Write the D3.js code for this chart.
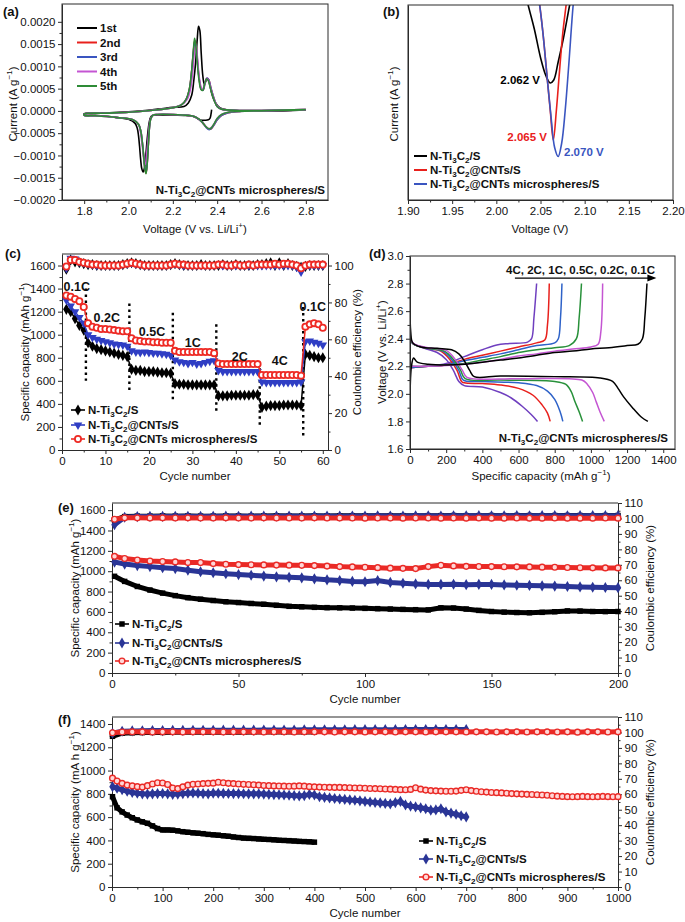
<!DOCTYPE html>
<html>
<head>
<meta charset="utf-8">
<script src="https://cdn.jsdelivr.net/npm/d3@7"></script>
<style>
  body { margin: 0; background: #fff; }
  svg { font-family: "Liberation Sans", Arial, sans-serif; }
</style>
</head>
<body>
<svg id="chart" width="685" height="922"></svg>
<script>
// ---------------- data ----------------

// (a) CV curves, [voltage V, current A/g]
const cvCycle1 = [[2.375,0.00003],[2.372,-0.00008],[2.368,-0.00016],[2.36,-0.0002],[2.345,-0.00021],[2.33,-0.00021],[2.315,-0.00018],[2.30,-0.00014],[2.28,-0.00011],[2.25,-0.0001],[2.20,-0.00009],[2.15,-0.00009],[2.11,-0.0001],[2.10,-0.00014],[2.092,-0.0003],[2.085,-0.0006],[2.078,-0.001],[2.072,-0.00128],[2.066,-0.00137],[2.06,-0.0013],[2.055,-0.0011],[2.05,-0.0008],[2.045,-0.00055],[2.04,-0.0004],[2.03,-0.00028],[2.0,-0.00019],[1.95,-0.00015],[1.9,-0.00012],[1.85,-0.0001],[1.8,-0.00009],
  [1.8,-0.00006],[1.9,-0.00004],[2.0,-0.00002],[2.1,0.00002],[2.15,0.00005],[2.2,0.00008],[2.25,0.0001],[2.27,0.00018],[2.285,0.00035],[2.295,0.0007],[2.303,0.0011],[2.31,0.0016],[2.316,0.0019],[2.322,0.0018],[2.328,0.0013],[2.335,0.0008],[2.342,0.0006],[2.35,0.00068],[2.357,0.00072],[2.365,0.00062],[2.375,0.0004],[2.39,0.0002],[2.41,0.00008],[2.45,0.00002],[2.55,0.0],[2.7,0.0],[2.8,0.00002]];
const cvCycle2 = [[2.80,0.00002],[2.60,0],[2.50,-0.00001],[2.45,-0.00004],[2.42,-0.0001],[2.40,-0.0002],[2.385,-0.00032],[2.373,-0.0004],[2.364,-0.00041],[2.352,-0.00037],[2.337,-0.00028],[2.32,-0.0002],[2.30,-0.00013],[2.27,-0.0001],[2.20,-0.00008],[2.13,-0.00008],[2.11,-0.0001],[2.10,-0.00018],[2.094,-0.0004],[2.089,-0.0008],[2.084,-0.0012],[2.079,-0.0014],[2.074,-0.00129],[2.068,-0.00099],[2.062,-0.00069],[2.055,-0.00044],[2.045,-0.0003],[2.02,-0.0002],[1.95,-0.00015],[1.85,-0.00011],[1.80,-0.0001],
  [1.80,-0.00007],[1.90,-0.00005],[2.00,-0.00003],[2.10,0.00001],[2.20,0.00007],[2.24,0.00014],[2.26,0.00026],[2.275,0.0005],[2.285,0.0009],[2.292,0.0013],[2.299,0.00158],[2.305,0.00147],[2.312,0.00106],[2.32,0.00068],[2.329,0.00048],[2.337,0.00047],[2.345,0.00062],[2.354,0.00073],[2.362,0.0007],[2.372,0.00051],[2.387,0.00026],[2.40,0.0001],[2.42,0.00004],[2.50,0.00001],[2.60,0.00001],[2.80,0.00003]];
const cvCycle3 = [[2.80,0.00002],[2.60,0],[2.50,-0.00001],[2.45,-0.00004],[2.42,-0.0001],[2.40,-0.0002],[2.385,-0.00032],[2.373,-0.0004],[2.364,-0.00042],[2.352,-0.00038],[2.337,-0.00028],[2.32,-0.0002],[2.30,-0.00013],[2.27,-0.0001],[2.20,-0.00008],[2.13,-0.00008],[2.11,-0.0001],[2.10,-0.00018],[2.094,-0.0004],[2.089,-0.00078],[2.084,-0.00118],[2.079,-0.00138],[2.074,-0.00128],[2.068,-0.00098],[2.062,-0.00068],[2.055,-0.00044],[2.045,-0.0003],[2.02,-0.0002],[1.95,-0.00015],[1.85,-0.00011],[1.80,-0.0001],
  [1.80,-0.00007],[1.90,-0.00005],[2.00,-0.00003],[2.10,0.00001],[2.20,0.00007],[2.24,0.00014],[2.26,0.00026],[2.275,0.00049],[2.285,0.00088],[2.292,0.00128],[2.299,0.00155],[2.305,0.00145],[2.312,0.00105],[2.32,0.00068],[2.329,0.00048],[2.337,0.00047],[2.345,0.00062],[2.354,0.00074],[2.362,0.0007],[2.372,0.00051],[2.387,0.00026],[2.40,0.0001],[2.42,0.00004],[2.50,0.00001],[2.60,0.00001],[2.80,0.00003]];
const cvCycle4 = [[2.80,0.00002],[2.60,0],[2.50,-0.00001],[2.45,-0.00003],[2.42,-0.00008],[2.40,-0.00017],[2.385,-0.0003],[2.372,-0.00038],[2.363,-0.0004],[2.35,-0.00036],[2.335,-0.00027],[2.32,-0.00019],[2.30,-0.00013],[2.27,-0.0001],[2.20,-0.00008],[2.13,-0.00008],[2.11,-0.0001],[2.10,-0.00017],[2.093,-0.00037],[2.087,-0.0007],[2.081,-0.001],[2.076,-0.0012],[2.071,-0.00115],[2.066,-0.00095],[2.06,-0.0007],[2.053,-0.00045],[2.045,-0.0003],[2.02,-0.0002],[1.95,-0.00015],[1.85,-0.00011],[1.80,-0.0001],
  [1.80,-0.00007],[1.90,-0.00005],[2.00,-0.00003],[2.10,0.00001],[2.20,0.00007],[2.24,0.00014],[2.265,0.00026],[2.28,0.0005],[2.29,0.0009],[2.297,0.0013],[2.303,0.00147],[2.309,0.0013],[2.316,0.0009],[2.324,0.0006],[2.333,0.00047],[2.342,0.00058],[2.352,0.00073],[2.36,0.0007],[2.37,0.00052],[2.385,0.00028],[2.40,0.00011],[2.42,0.00004],[2.50,0.00001],[2.60,0.00001],[2.80,0.00003]];
const cvCycle5 = [[2.80,0.00002],[2.70,0.00001],[2.60,0],[2.50,-0.00001],[2.45,-0.00003],[2.42,-0.00008],[2.40,-0.00017],[2.385,-0.0003],[2.372,-0.00039],[2.362,-0.0004],[2.35,-0.00036],[2.335,-0.00027],[2.32,-0.00019],[2.30,-0.00013],[2.27,-0.0001],[2.20,-0.00008],[2.13,-0.00008],[2.11,-0.0001],[2.10,-0.00018],[2.094,-0.0004],[2.089,-0.0008],[2.084,-0.0012],[2.079,-0.00141],[2.074,-0.0013],[2.068,-0.001],[2.062,-0.0007],[2.055,-0.00045],[2.045,-0.0003],[2.02,-0.0002],[1.95,-0.00015],[1.85,-0.00011],[1.80,-0.0001],
  [1.80,-0.00007],[1.90,-0.00005],[2.00,-0.00003],[2.10,0.00001],[2.20,0.00007],[2.24,0.00014],[2.26,0.00026],[2.275,0.0005],[2.285,0.0009],[2.292,0.0013],[2.298,0.00163],[2.303,0.0015],[2.31,0.0011],[2.318,0.0007],[2.327,0.00048],[2.335,0.00046],[2.343,0.0006],[2.352,0.00072],[2.36,0.00068],[2.37,0.0005],[2.385,0.00026],[2.40,0.0001],[2.42,0.00004],[2.50,0.00001],[2.60,0.00001],[2.80,0.00003]];
const cvLabels = ['1st', '2nd', '3rd', '4th', '5th'];
const cvColors = ['#000000', '#e8201c', '#3a55c0', '#c455d2', '#2e8b36'];

// (b) zoom on the cathodic peak
const peakBlack = [[2.030,-0.00005],[2.036,-0.0002],[2.043,-0.00036],[2.050,-0.00055],[2.056,-0.00067],[2.061,-0.00072],[2.065,-0.0007],[2.070,-0.00058],[2.076,-0.00042],[2.083,-0.0002],[2.087,-0.00008]];
const peakRed = [[2.046,-0.0001],[2.049,-0.0002],[2.053,-0.0004],[2.057,-0.00065],[2.061,-0.0009],[2.0645,-0.0011],[2.068,-0.0009],[2.071,-0.00068],[2.075,-0.0004],[2.079,-0.0002],[2.081,-0.0001]];
const peakBlue = [[2.046,-0.0001],[2.049,-0.0002],[2.053,-0.0004],[2.057,-0.00065],[2.062,-0.00095],[2.066,-0.00115],[2.070,-0.00121],[2.074,-0.00112],[2.078,-0.0009],[2.082,-0.0006],[2.087,-0.0002],[2.089,-0.0001]];
const peakLabels = ['2.062 V', '2.065 V', '2.070 V'];

const sampleNames = ['N-Ti{_3}C{_2}/S', 'N-Ti{_3}C{_2}@CNTs/S', 'N-Ti{_3}C{_2}@CNTs microspheres/S'];

// (c) rate performance, cycles 1..60
const cyclesC = d3.range(1, 61);
const capBlackC = [1220,1200,1140,1080,1040, 930,900,880,870,860,850,840,830,820,810, 700,690,690,680,680,680,675,670,670,665, 575,570,570,565,565,565,565,565,565,565, 470,470,470,475,475,475,475,475,480,480, 370,380,385,385,385,390,390,390,390,385, 830,820,810,800,800];
const capBlueC = [1300,1250,1200,1150,1100, 1000,975,960,950,940,930,920,915,910,900, 860,850,845,850,845,840,840,835,830,820, 780,765,760,750,760,745,750,760,770,775, 690,680,680,680,680,680,680,680,680,680, 590,585,585,585,585,585,585,585,585,590, 940,945,935,925,910];
const capRedC = [1340,1330,1310,1290,1240, 1100,1070,1060,1050,1050,1045,1040,1035,1030,1030, 970,950,945,940,940,935,935,930,930,930, 860,850,850,850,850,850,850,850,850,840, 750,745,745,745,745,745,745,745,745,745, 650,650,650,650,650,650,650,650,650,645, 1070,1090,1100,1090,1060];
const ceBlackC = [98,103,102,101.5,101, 100.5,100.5,100,100,100,100,100,100,100.5,101, 101.5,101,100.5,100,100,100,100,100,100,100.5, 101,100.5,100,100,100,100,100.5,100,100,100, 100,100.5,100,100,100.5,100,100,100,100,100.5, 100.5,101,101.5,100,101.5,100,101,100,99.5,99, 99.5,100,100,100,100];
const ceBlueC = [98.5,104,103.5,102,101.5, 101,100.5,100,100,100,100,100,100,100.5,101, 101.5,101,100.5,100,100,100,100,100,100,100.5, 101,100.5,100,100,100,100,100,100,100,100, 100.5,100,100,100,100,100,100,100,100,100, 100,100,100,100,100,100,100,100,99,96.5, 100,100,100,100,100];
const ceRedC = [99.5,103,103,102,101.5, 101,100.5,100.5,100,100,100,100,100,100.5,101, 101.5,101,100.5,100,100,100,100,100,100,100.5, 101,100.5,100.5,100,100,100,100,100,100,100, 100.5,100.5,100,100,100.5,100,100,100.5,100,100.5, 100.5,100.5,100.5,101,100.5,101,101,100.5,100,98.5, 100,100.5,100.5,100.5,100.5];
// rate switch markers [cycle, top, bottom] and rate labels
const rateDividers = [[5.5,1400,600],[15.5,1270,500],[25.5,1190,420],[35.5,1090,330],[45.5,710,190],[55.5,1240,110]];
const rateLabels = ['0.1C', '0.2C', '0.5C', '1C', '2C', '4C', '0.1C'];
const rateLabelCycle = [3.4, 10.3, 20.7, 30.1, 40.9, 50.1, 57.7];
const rateLabelCap = [1415, 1146, 1024, 929, 807, 773, 1241];

// (d) charge/discharge profiles, [capacity mAh/g, voltage V]
const rateNamesD = ['4C', '2C', '1C', '0.5C', '0.2C', '0.1C'];
const rateColorsD = ['#6f3fbf', '#e8201c', '#2e62c8', '#28913a', '#c455d2', '#000000'];
const dis4C = [[0,2.39],[20,2.36],[80,2.33],[150,2.30],[200,2.25],[240,2.17],[270,2.09],[300,2.06],[400,2.05],[500,2.01],[560,1.97],[620,1.91],[670,1.85],[705,1.80]];
const dis2C = [[0,2.40],[20,2.36],[100,2.33],[170,2.31],[220,2.25],[260,2.17],[285,2.09],[300,2.08],[400,2.075],[500,2.065],[600,2.04],[680,1.99],[730,1.92],[760,1.86],[775,1.80]];
const dis1C = [[0,2.40],[20,2.36],[100,2.33],[180,2.31],[230,2.25],[270,2.17],[295,2.10],[400,2.09],[600,2.08],[700,2.06],[760,2.02],[800,1.96],[830,1.87],[845,1.80]];
const dis05C = [[0,2.40],[20,2.36],[100,2.33],[190,2.31],[240,2.25],[280,2.17],[305,2.11],[500,2.10],[800,2.09],[860,2.07],[890,2.02],[910,1.95],[935,1.87],[954,1.80]];
const dis02C = [[0,2.41],[20,2.365],[100,2.335],[200,2.315],[250,2.25],[290,2.17],[315,2.12],[600,2.11],[950,2.10],[980,2.07],[1010,2.01],[1030,1.94],[1050,1.87],[1074,1.80]];
const dis01C = [[0,2.66],[4,2.45],[15,2.37],[60,2.34],[150,2.33],[230,2.32],[270,2.29],[300,2.24],[330,2.17],[355,2.125],[500,2.13],[800,2.125],[1050,2.115],[1120,2.09],[1150,2.04],[1180,1.98],[1230,1.90],[1280,1.83],[1315,1.80]];
const chg4C = [[0,2.19],[100,2.20],[200,2.22],[300,2.27],[400,2.32],[480,2.355],[550,2.365],[650,2.375],[672,2.40],[685,2.55],[700,2.80]];
const chg2C = [[0,2.19],[100,2.20],[200,2.21],[300,2.25],[400,2.28],[500,2.31],[600,2.34],[700,2.37],[745,2.39],[760,2.50],[770,2.80]];
const chg1C = [[0,2.19],[100,2.20],[200,2.21],[300,2.24],[400,2.265],[500,2.29],[600,2.32],[700,2.35],[800,2.37],[820,2.40],[832,2.55],[840,2.80]];
const chg05C = [[0,2.20],[100,2.20],[200,2.21],[300,2.22],[400,2.245],[500,2.27],[600,2.30],[700,2.32],[800,2.335],[880,2.35],[920,2.40],[935,2.55],[948,2.80]];
const chg02C = [[0,2.20],[100,2.20],[200,2.205],[300,2.215],[400,2.23],[500,2.25],[600,2.275],[700,2.29],[800,2.31],[900,2.325],[1000,2.34],[1040,2.36],[1055,2.45],[1065,2.80]];
const chg01C = [[0,1.97],[8,2.20],[20,2.26],[40,2.23],[100,2.215],[200,2.21],[300,2.215],[400,2.23],[500,2.245],[600,2.26],[700,2.28],[800,2.30],[900,2.31],[1000,2.325],[1100,2.335],[1200,2.35],[1260,2.36],[1285,2.40],[1298,2.55],[1310,2.80]];

// (e) cycling at 0.2C, sampled every 5 cycles
const cyclesE = [1].concat(d3.range(5, 201, 5));
const capBlackE = [950,900,850,815,785,760,740,725,712,700,692,683,675,665,655,650,645,642,640,638,635,632,628,625,622,620,640,638,628,615,604,598,594,592,596,602,610,608,604,603,604];
const capBlueE = [1090,1070,1055,1045,1035,1026,1010,995,985,975,967,960,952,945,940,935,925,915,908,900,896,908,890,882,875,870,870,872,868,870,870,865,862,860,856,854,850,846,842,840,838];
const capRedE = [1146,1125,1110,1100,1095,1091,1085,1085,1075,1068,1065,1063,1062,1060,1059,1058,1055,1050,1045,1042,1039,1035,1030,1028,1026,1045,1058,1052,1048,1046,1045,1044,1043,1042,1040,1039,1036,1034,1033,1032,1032];
const ceBlackE = [99.0,101.2,101.5,101.5,101.6,101.5,101.6,101.5,101.5,101.6,101.6,101.5,101.6,101.7,101.6,101.6,101.7,101.6,101.7,101.8,101.7,101.7,101.8,101.8,101.7,101.8,101.8,101.9,101.8,101.8,101.9,101.8,101.9,101.9,101.8,101.9,101.9,101.9,101.8,101.9,101.9];
const ceBlueE = [96.0,100.8,101.2,101.3,101.3,101.4,101.4,101.3,101.4,101.5,101.4,101.5,101.5,101.5,101.6,101.5,101.6,101.6,101.5,101.6,101.6,101.7,101.6,101.6,101.7,101.7,101.6,101.7,101.7,101.8,101.7,101.7,101.8,101.7,101.8,101.8,101.7,101.8,101.8,101.8,101.8];
const ceRedE = [99.5,100.4,100.4,100.3,100.4,100.3,100.4,100.3,100.3,100.4,100.3,100.3,100.4,100.3,100.3,100.3,100.4,100.3,100.3,100.3,100.2,100.3,100.3,100.2,100.3,100.3,100.2,100.3,100.2,100.3,100.2,100.2,100.3,100.2,100.2,100.3,100.2,100.2,100.2,100.3,100.2];

// (f) long cycling at 1C, sampled every 10 cycles (CE every 20)
const cyclesF = [1].concat(d3.range(10, 1001, 10));
const capBlackF = [775,680,645,618,595,576,560,547,525,502,490,490,488,482,475,470,465,462,458,452,448,445,440,436,430,425,420,418,416,413,410,408,405,402,400,398,395,392,390,388,385];
const capBlueF = [862,848,835,822,812,805,800,798,800,802, 803,800,796,798,802,806,808,806,802,800, 806,805,804,803,802,802,801,800,800,800, 798,796,794,792,790,788,785,782,785,795, 790,775,770,765,760,756,752,748,745,740, 735,730,726,722,718,714,725,735,705,695, 688,680,672,660,662,672,645,635,625,612, 602];
const capRedF = [935,910,890,875,868,862,858,870,885,895, 893,880,850,845,860,875,882,885,888,890, 892,900,895,890,888,885,882,880,878,875, 872,870,868,867,866,865,866,868,866,862, 860,858,857,856,855,855,854,852,850,850, 848,846,845,844,842,840,838,836,835,838, 852,840,832,828,826,824,822,822,824,830, 835,828,822,818,815,812,810,808,805,802, 800,798,796,794,792,790,788,784,780,778, 776,775,776,778,776,775,776,778,776,775, 776];
const ceCyclesF = [1].concat(d3.range(20, 1001, 20));
const ceBlackF = [97.5,99.5,99.8,99.9,100,100,100.1,100.1,100.1,100.2,100.2,100.2,100.2,100.2,100.3,100.3,100.3,100.3,100.3,100.3,100.3];
const ceBlueF = [99.5,100.8,101.0,101.1,101.2,101.2,101.3,101.3,101.4,101.4,101.4,101.5,101.5,101.5,101.5,101.6,101.6,101.6,101.6,101.7,101.7,101.7,101.7,101.7,101.8,101.8,101.8,101.8,101.8,101.9,101.9,101.9,101.9,101.9,101.9,101.9];
const ceRedF = [99.8,100.3,100.4,100.4,100.3,100.4,100.4,100.3,100.4,100.4,100.4,100.3,100.4,100.4,100.4,100.3,100.4,100.4,100.3,100.4,100.4,100.4,100.3,100.4,100.4,100.3,100.4,100.4,100.3,100.4,100.4,100.3,100.4,100.4,100.4,100.3,100.4,100.4,100.3,100.4,100.4,100.3,100.4,100.4,100.3,100.4,100.2,100.4,100.4,100.3,100.4];

// tick values
const aXTicks = [1.8, 2.0, 2.2, 2.4, 2.6, 2.8];
const aYTicks = [-0.002, -0.0015, -0.001, -0.0005, 0, 0.0005, 0.001, 0.0015, 0.002];
const bXTicks = [1.90, 1.95, 2.00, 2.05, 2.10, 2.15, 2.20];
const cXTicks = [0, 10, 20, 30, 40, 50, 60];
const cYTicks = [0, 200, 400, 600, 800, 1000, 1200, 1400, 1600];
const cY2Ticks = [0, 20, 40, 60, 80, 100];
const dXTicks = [0, 200, 400, 600, 800, 1000, 1200, 1400];
const dYTicks = [1.6, 1.8, 2.0, 2.2, 2.4, 2.6, 2.8, 3.0];
const eXTicks = [0, 50, 100, 150, 200];
const eYTicks = [0, 200, 400, 600, 800, 1000, 1200, 1400, 1600];
const efY2Ticks = [0, 10, 20, 30, 40, 50, 60, 70, 80, 90, 100, 110];
const fXTicks = [0, 100, 200, 300, 400, 500, 600, 700, 800, 900, 1000];
const fYTicks = [0, 200, 400, 600, 800, 1000, 1200, 1400];

// ---------------- helpers ----------------
const svg = d3.select('#chart');
const defs = svg.append('defs');
const INK = '#2b2b2b';
const intFmt = d3.format('d');

// text with {_sub} and {^sup} markup
function rich(sel, str, fs) {
  const parts = str.split(/(\{[_^][^}]*\})/).filter(s => s.length);
  let cur = 0;
  parts.forEach(p => {
    let off = 0, txt = p, small = false;
    if (p[0] === '{') {
      off = p[1] === '_' ? 0.28 * fs : -0.42 * fs;
      txt = p.slice(2, -1);
      small = true;
    }
    const t = sel.append('tspan').attr('dy', off - cur).text(txt);
    if (small) t.attr('font-size', fs * 0.7);
    cur = off;
  });
}

function addText(g, x, y, str, o = {}) {
  const fs = o.size || 11.5;
  const t = g.append('text').attr('x', x).attr('y', y)
    .attr('font-size', fs)
    .attr('font-weight', o.bold ? 'bold' : null)
    .attr('text-anchor', o.anchor || 'start')
    .attr('fill', o.color || '#111');
  if (o.rotate) t.attr('transform', `rotate(${o.rotate},${x},${y})`);
  rich(t, str, fs);
  return t;
}

const mids = ticks => d3.pairs(ticks).map(([a, b]) => (a + b) / 2);

function styleAxis(a, fs) {
  a.attr('font-family', null).attr('font-size', fs || 11.5);
  a.select('.domain').attr('stroke', INK);
  a.selectAll('.tick line').attr('stroke', INK);
  a.selectAll('.tick text').attr('fill', '#111');
}

function minorAxis(g, gen, tr) {
  const a = g.append('g').attr('transform', tr)
    .call(gen.tickFormat('').tickSize(2.5).tickSizeOuter(0));
  a.select('.domain').remove();
  a.selectAll('.tick line').attr('stroke', INK);
}

// frame + bottom/left (+right) axes
function drawAxes(g, x, y, o) {
  const [x0, x1] = x.range();
  const [y0, y1] = y.range();
  if (o.box) {
    g.append('rect').attr('x', x0).attr('y', y1).attr('width', x1 - x0).attr('height', y0 - y1)
      .attr('fill', 'none').attr('stroke', INK);
  } else {
    g.append('line').attr('x1', x0).attr('x2', x1).attr('y1', y1).attr('y2', y1).attr('stroke', INK);
  }
  const ax = d3.axisBottom(x).tickValues(o.xTicks).tickSize(4).tickSizeOuter(0).tickPadding(2.5)
    .tickFormat(o.xFmt || intFmt);
  styleAxis(g.append('g').attr('transform', `translate(0,${y0})`).call(ax));
  if (o.xMinor) minorAxis(g, d3.axisBottom(x).tickValues(o.xMinor), `translate(0,${y0})`);

  const ay = d3.axisLeft(y).tickValues(o.yTicks || []).tickSize(4).tickSizeOuter(0).tickPadding(2.5)
    .tickFormat(o.yFmt || intFmt);
  styleAxis(g.append('g').attr('transform', `translate(${x0},0)`).call(ay));
  if (o.yMinor) minorAxis(g, d3.axisLeft(y).tickValues(o.yMinor), `translate(${x0},0)`);

  if (o.y2) {
    const ar = d3.axisRight(o.y2).tickValues(o.y2Ticks).tickSize(4).tickSizeOuter(0).tickPadding(2.5)
      .tickFormat(intFmt);
    styleAxis(g.append('g').attr('transform', `translate(${x1},0)`).call(ar));
    if (o.y2Minor) minorAxis(g, d3.axisRight(o.y2).tickValues(o.y2Minor), `translate(${x1},0)`);
  }
}

function clipFor(id, x, y) {
  const [x0, x1] = x.range();
  const [y0, y1] = y.range();
  defs.append('clipPath').attr('id', id).append('rect')
    .attr('x', x0).attr('y', y1).attr('width', x1 - x0).attr('height', y0 - y1);
  return `url(#${id})`;
}

const shapes = {
  diamond: d3.symbol(d3.symbolDiamond, 36)(),
  tri: d3.symbol(d3.symbolTriangle, 32)(),
  circle: d3.symbol(d3.symbolCircle, 30)(),
  square: d3.symbol(d3.symbolSquare, 30)(),
  diamondS: d3.symbol(d3.symbolDiamond, 36)(),
  circleS: d3.symbol(d3.symbolCircle, 26)()
};

// marker + line series
function drawSeries(g, x, y, xs, ys, o) {
  const pts = ys.map((v, i) => [xs[i], v]);
  g.append('path').datum(pts)
    .attr('d', d3.line().x(d => x(d[0])).y(d => y(d[1])))
    .attr('fill', 'none').attr('stroke', o.color).attr('stroke-width', o.lw || 1.5);
  g.append('g').selectAll('path').data(pts).join('path')
    .attr('transform', d => `translate(${x(d[0])},${y(d[1])})` + (o.flip ? ' rotate(180)' : ''))
    .attr('d', o.shape)
    .attr('fill', o.fill || o.color)
    .attr('stroke', o.stroke || 'none')
    .attr('stroke-width', o.sw || 0);
}

function legendRow(g, x, y, o, label, size) {
  g.append('line').attr('x1', x - 7).attr('x2', x + 7).attr('y1', y).attr('y2', y)
    .attr('stroke', o.color).attr('stroke-width', 1.6);
  g.append('path').attr('d', o.shape)
    .attr('transform', `translate(${x},${y})` + (o.flip ? ' rotate(180)' : ''))
    .attr('fill', o.fill || o.color).attr('stroke', o.stroke || 'none').attr('stroke-width', o.sw || 0);
  addText(g, x + 10, y + 4, label, { bold: true, size: size || 11.5 });
}

const curve = (x, y) => d3.line().x(d => x(d[0])).y(d => y(d[1])).curve(d3.curveCatmullRom);

// ---------------- (a) ----------------
{
  const g = svg.append('g');
  const x = d3.scaleLinear([1.7, 2.9], [62, 328]);
  const y = d3.scaleLinear([-0.002, 0.0024], [200, 4]);
  const plot = g.append('g').attr('clip-path', clipFor('clip-a', x, y));
  [cvCycle1, cvCycle2, cvCycle3, cvCycle4, cvCycle5].forEach((c, i) => {
    plot.append('path').datum(c).attr('d', curve(x, y)).attr('fill', 'none')
      .attr('stroke', cvColors[i]).attr('stroke-width', 1.6);
  });
  drawAxes(g, x, y, {
    box: true, xTicks: aXTicks, xMinor: mids(aXTicks), xFmt: d3.format('.1f'),
    yTicks: aYTicks, yMinor: mids(aYTicks), yFmt: d3.format('.4f')
  });
  cvLabels.forEach((l, i) => {
    const yy = 28 + i * 14.5;
    g.append('line').attr('x1', 77).attr('x2', 97).attr('y1', yy).attr('y2', yy)
      .attr('stroke', cvColors[i]).attr('stroke-width', 2);
    addText(g, 100, yy + 4, l, { bold: true, size: 11.5 });
  });
  addText(g, 325, 194, sampleNames[2], { bold: true, anchor: 'end' });
  addText(g, 17, 104, 'Current (A g{^−1})', { rotate: -90, anchor: 'middle' });
  addText(g, 195, 233, 'Voltage (V vs. Li/Li{^+})', { anchor: 'middle' });
  addText(g, 3, 16, '(a)', { bold: true, size: 13 });
}

// ---------------- (b) ----------------
{
  const g = svg.append('g');
  const x = d3.scaleLinear([1.90, 2.20], [408, 673]);
  const y = d3.scaleLinear([-0.0015, -0.0002], [200, 5]);
  const colors = ['#000000', '#e8201c', '#3a55c0'];
  const plot = g.append('g').attr('clip-path', clipFor('clip-b', x, y));
  [peakBlack, peakRed, peakBlue].forEach((c, i) => {
    plot.append('path').datum(c).attr('d', curve(x, y)).attr('fill', 'none')
      .attr('stroke', colors[i]).attr('stroke-width', 1.6);
  });
  drawAxes(g, x, y, { box: true, xTicks: bXTicks, xMinor: mids(bXTicks), xFmt: d3.format('.2f') });
  addText(g, 540, 84, peakLabels[0], { bold: true, anchor: 'end', color: colors[0] });
  addText(g, 547, 141, peakLabels[1], { bold: true, anchor: 'end', color: colors[1] });
  addText(g, 564, 156, peakLabels[2], { bold: true, color: colors[2] });
  sampleNames.forEach((n, i) => {
    const yy = 156 + i * 14;
    g.append('line').attr('x1', 414).attr('x2', 427).attr('y1', yy).attr('y2', yy)
      .attr('stroke', colors[i]).attr('stroke-width', 2);
    addText(g, 430, yy + 4, n, { bold: true });
  });
  addText(g, 398, 104, 'Current (A g{^−1})', { rotate: -90, anchor: 'middle' });
  addText(g, 540, 233, 'Voltage (V)', { anchor: 'middle' });
  addText(g, 383, 16, '(b)', { bold: true, size: 13 });
}

// ---------------- (c) ----------------
const styleBlackC = { color: '#000', shape: shapes.diamond };
const styleBlueC = { color: '#2f3ec4', shape: shapes.tri, flip: true };
const styleRedC = { color: '#ee2a24', shape: shapes.circle, fill: '#fff', stroke: '#ee2a24', sw: 1.8 };
{
  const g = svg.append('g');
  const x = d3.scaleLinear([0, 61.2], [62, 328]);
  const y = d3.scaleLinear([0, 1700], [450, 254]);
  const y2 = d3.scaleLinear([0, 106.25], [450, 254]);
  drawAxes(g, x, y, {
    xTicks: cXTicks, xMinor: mids(cXTicks), yTicks: cYTicks, yMinor: mids(cYTicks),
    y2: y2, y2Ticks: cY2Ticks, y2Minor: mids(cY2Ticks)
  });
  rateDividers.forEach(d => {
    g.append('line').attr('x1', x(d[0])).attr('x2', x(d[0])).attr('y1', y(d[1])).attr('y2', y(d[2]))
      .attr('stroke', '#000').attr('stroke-width', 2.4).attr('stroke-dasharray', '2.5,3.5');
  });
  drawSeries(g, x, y2, cyclesC, ceBlackC, styleBlackC);
  drawSeries(g, x, y2, cyclesC, ceBlueC, styleBlueC);
  drawSeries(g, x, y2, cyclesC, ceRedC, styleRedC);
  drawSeries(g, x, y, cyclesC, capBlackC, styleBlackC);
  drawSeries(g, x, y, cyclesC, capBlueC, styleBlueC);
  drawSeries(g, x, y, cyclesC, capRedC, styleRedC);
  rateLabels.forEach((l, i) => {
    addText(g, x(rateLabelCycle[i]), y(rateLabelCap[i]) + 4.5, l, { bold: true, size: 12.5, anchor: 'middle' });
  });
  [styleBlackC, styleBlueC, styleRedC].forEach((s, i) => {
    legendRow(g, 78, [410, 425, 439][i], s, sampleNames[i]);
  });
  addText(g, 29, 352, 'Specific capacity (mAh g{^−1})', { rotate: -90, anchor: 'middle' });
  addText(g, 361, 352, 'Coulombic efficiency (%)', { rotate: -90, anchor: 'middle' });
  addText(g, 195, 480, 'Cycle number', { anchor: 'middle' });
  addText(g, 5, 258, '(c)', { bold: true, size: 13 });
}

// ---------------- (d) ----------------
{
  const g = svg.append('g');
  const x = d3.scaleLinear([0, 1465], [410, 675]);
  const y = d3.scaleLinear([1.6, 3.0], [449, 256]);
  const plot = g.append('g').attr('clip-path', clipFor('clip-d', x, y));
  const dis = [dis4C, dis2C, dis1C, dis05C, dis02C, dis01C];
  const chg = [chg4C, chg2C, chg1C, chg05C, chg02C, chg01C];
  const lineV = d3.line().x(d => x(d[0])).y(d => y(d[1])).curve(d3.curveCatmullRom.alpha(0.5));
  rateNamesD.forEach((r, i) => {
    plot.append('path').datum(dis[i]).attr('d', lineV).attr('fill', 'none')
      .attr('stroke', rateColorsD[i]).attr('stroke-width', 1.5);
    plot.append('path').datum(chg[i]).attr('d', lineV).attr('fill', 'none')
      .attr('stroke', rateColorsD[i]).attr('stroke-width', 1.5);
  });
  drawAxes(g, x, y, {
    box: true, xTicks: dXTicks, xMinor: mids(dXTicks),
    yTicks: dYTicks, yMinor: mids(dYTicks), yFmt: d3.format('.1f')
  });
  // rate order arrow
  g.append('line').attr('x1', x(580)).attr('x2', x(1350)).attr('y1', y(2.84)).attr('y2', y(2.84))
    .attr('stroke', '#000').attr('stroke-width', 1.3);
  g.append('path').attr('d', `M${x(1362)},${y(2.84)} l-9,-3.5 l0,7 z`).attr('fill', '#000');
  addText(g, 655, 274, rateNamesD.join(', '), { bold: true, anchor: 'end' });
  addText(g, 668, 442, sampleNames[2], { bold: true, anchor: 'end' });
  addText(g, 386, 352, 'Voltage (V vs. Li/Li{^+})', { rotate: -90, anchor: 'middle' });
  addText(g, 541, 480, 'Specific capacity (mAh g{^−1})', { anchor: 'middle' });
  addText(g, 369, 258, '(d)', { bold: true, size: 13 });
}

// ---------------- (e) & (f) ----------------
const styleBlackE = { color: '#000', shape: shapes.square, lw: 5 };
const styleBlueE = { color: '#2a3596', shape: shapes.diamondS, lw: 5 };
const styleRedE = { color: '#ea2a26', shape: shapes.circleS, fill: '#ffd6d6', stroke: '#ea2a26', sw: 1.4, lw: 5 };
{
  const g = svg.append('g');
  const x = d3.scaleLinear([0, 200], [112, 618]);
  const y = d3.scaleLinear([0, 1670], [673, 503]);
  const y2 = d3.scaleLinear([0, 110], [673, 503]);
  drawAxes(g, x, y, {
    xTicks: eXTicks, xMinor: mids(eXTicks), yTicks: eYTicks, yMinor: mids(eYTicks),
    y2: y2, y2Ticks: efY2Ticks, y2Minor: mids(efY2Ticks)
  });
  drawSeries(g, x, y2, cyclesE, ceBlackE, styleBlackE);
  drawSeries(g, x, y2, cyclesE, ceBlueE, styleBlueE);
  drawSeries(g, x, y2, cyclesE, ceRedE, styleRedE);
  drawSeries(g, x, y, cyclesE, capBlackE, styleBlackE);
  drawSeries(g, x, y, cyclesE, capBlueE, styleBlueE);
  drawSeries(g, x, y, cyclesE, capRedE, styleRedE);
  [styleBlackE, styleBlueE, styleRedE].forEach((s, i) => {
    legendRow(g, 122, [624, 643, 661][i], s, sampleNames[i]);
  });
  addText(g, 79, 588, 'Specific capacity (mAh g{^−1})', { rotate: -90, anchor: 'middle' });
  addText(g, 654, 588, 'Coulombic efficiency (%)', { rotate: -90, anchor: 'middle' });
  addText(g, 365, 703, 'Cycle number', { anchor: 'middle' });
  addText(g, 58, 512, '(e)', { bold: true, size: 13 });
}
{
  const g = svg.append('g');
  const x = d3.scaleLinear([0, 1000], [112, 618]);
  const y = d3.scaleLinear([0, 1460], [887, 717]);
  const y2 = d3.scaleLinear([0, 110], [887, 717]);
  drawAxes(g, x, y, {
    xTicks: fXTicks, xMinor: mids(fXTicks), yTicks: fYTicks, yMinor: mids(fYTicks),
    y2: y2, y2Ticks: efY2Ticks, y2Minor: mids(efY2Ticks)
  });
  drawSeries(g, x, y2, ceCyclesF, ceBlackF, styleBlackE);
  drawSeries(g, x, y2, ceCyclesF, ceBlueF, styleBlueE);
  drawSeries(g, x, y2, ceCyclesF, ceRedF, styleRedE);
  drawSeries(g, x, y, cyclesF, capBlackF, styleBlackE);
  drawSeries(g, x, y, cyclesF, capBlueF, styleBlueE);
  drawSeries(g, x, y, cyclesF, capRedF, styleRedE);
  [styleBlackE, styleBlueE, styleRedE].forEach((s, i) => {
    legendRow(g, 426, [841, 859, 877][i], s, sampleNames[i]);
  });
  addText(g, 79, 802, 'Specific capacity (mA h g{^−1})', { rotate: -90, anchor: 'middle' });
  addText(g, 654, 802, 'Coulombic efficiency (%)', { rotate: -90, anchor: 'middle' });
  addText(g, 365, 917, 'Cycle number', { anchor: 'middle' });
  addText(g, 58, 724, '(f)', { bold: true, size: 13 });
}
</script>
</body>
</html>
